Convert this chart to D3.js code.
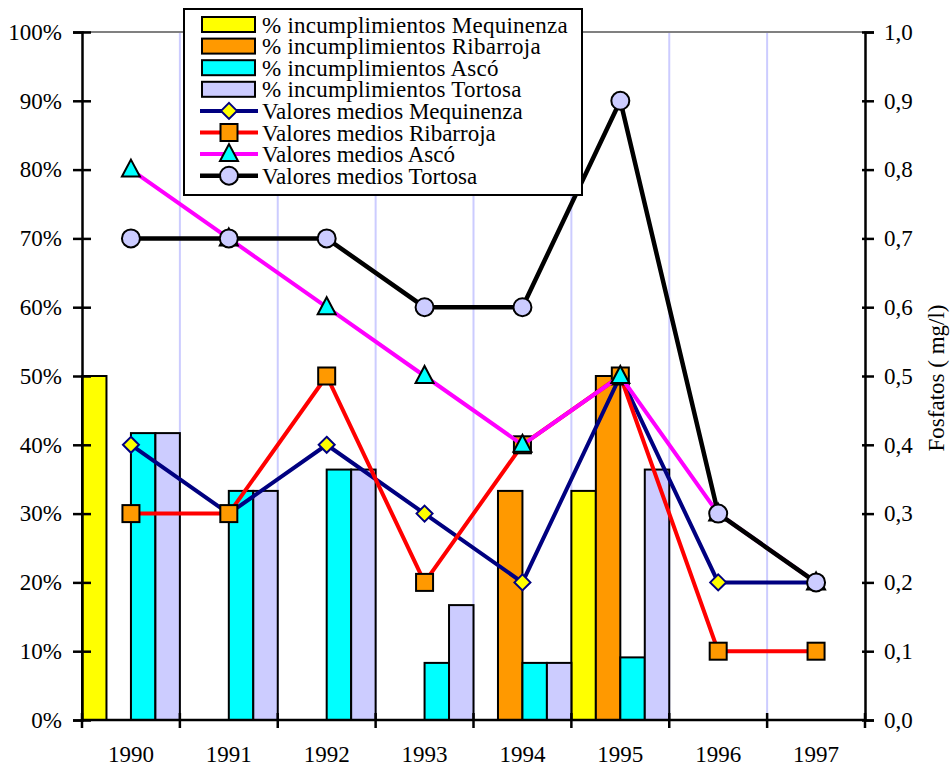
<!DOCTYPE html>
<html>
<head>
<meta charset="utf-8">
<script src="https://cdn.jsdelivr.net/npm/d3@7"></script>
<style>
  html, body { margin: 0; padding: 0; background: #fff; }
  svg { display: block; }
  svg text { font-family: "Liberation Serif", "Times New Roman", Times, serif; fill: #000; }
</style>
</head>
<body>
<svg id="chart" width="951" height="769"></svg>
<script>
// ---- data ----
const years = ["1990", "1991", "1992", "1993", "1994", "1995", "1996", "1997"];
const barSeriesNames = ["% incumplimientos Mequinenza", "% incumplimientos Ribarroja", "% incumplimientos Ascó", "% incumplimientos Tortosa"];
const pctMequinenza = [50, 0, 0, 0, 0, 33.3, 0, 0];
const pctRibarroja  = [0, 0, 0, 0, 33.3, 50, 0, 0];
const pctAsco       = [41.7, 33.3, 36.4, 8.3, 8.3, 9.1, 0, 0];
const pctTortosa    = [41.7, 33.3, 36.4, 16.7, 8.3, 36.4, 0, 0];
const lineSeriesNames = ["Valores medios Mequinenza", "Valores medios Ribarroja", "Valores medios Ascó", "Valores medios Tortosa"];
const medMequinenza = [0.4, 0.3, 0.4, 0.3, 0.2, 0.5, 0.2, 0.2];
const medRibarroja  = [0.3, 0.3, 0.5, 0.2, 0.4, 0.5, 0.1, 0.1];
const medAsco       = [0.8, 0.7, 0.6, 0.5, 0.4, 0.5, 0.3, 0.2];
const medTortosa    = [0.7, 0.7, 0.7, 0.6, 0.6, 0.9, 0.3, 0.2];
const leftTicks  = [0, 10, 20, 30, 40, 50, 60, 70, 80, 90, 100];
const rightTicks = [0, 0.1, 0.2, 0.3, 0.4, 0.5, 0.6, 0.7, 0.8, 0.9, 1.0];
const rightAxisTitle = "Fosfatos ( mg/l)";

// ---- styles ----
const FONT = "Liberation Serif";
const barColors  = ["#ffff00", "#ff9900", "#00ffff", "#ccccff"];
const lineColors = ["#000080", "#ff0000", "#ff00ff", "#000000"];
const markerFill = ["#ffff00", "#ff9900", "#00ffff", "#ccccff"];
const markerStroke = ["#000080", "#000000", "#000000", "#000000"];
const markerTypes = ["diamond", "square", "triangle", "circle"];
const lineWidths = [4, 4, 4, 4.5];

const barData = [pctMequinenza, pctRibarroja, pctAsco, pctTortosa];
const lineData = [medMequinenza, medRibarroja, medAsco, medTortosa];

const svg = d3.select("#chart");
const L = 82, R = 865, T = 32, B = 720;

const x = d3.scaleBand().domain(years).range([L, R]).padding(0);
const xs = d3.scaleBand().domain(d3.range(4)).range([0, x.bandwidth()]).padding(0);
const yL = d3.scaleLinear().domain([0, 100]).range([B, T]);
const yR = d3.scaleLinear().domain([0, 1]).range([B, T]);

// gridlines at category boundaries
const bounds = years.slice(1).map(y => x(y));
svg.append("g").selectAll("line").data(bounds).join("line")
  .attr("x1", d => d).attr("x2", d => d)
  .attr("y1", T).attr("y2", B)
  .attr("stroke", "#ccccff").attr("stroke-width", 2);

// top border
svg.append("line").attr("x1", L).attr("x2", R).attr("y1", T).attr("y2", T)
  .attr("stroke", "#808080").attr("stroke-width", 2);

// bars
barData.forEach((arr, si) => {
  svg.append("g").selectAll("rect")
    .data(arr.map((v, i) => ({ v, yr: years[i] })).filter(d => d.v > 0))
    .join("rect")
    .attr("x", d => x(d.yr) + xs(si))
    .attr("width", xs.bandwidth())
    .attr("y", d => yL(d.v))
    .attr("height", d => B - yL(d.v))
    .attr("fill", barColors[si])
    .attr("stroke", "#000").attr("stroke-width", 2);
});

// axes
const fmtR = d3.format(".1f");
const gL = svg.append("g").attr("transform", `translate(${L},0)`)
  .call(d3.axisLeft(yL).tickValues(leftTicks).tickFormat(d => d + "%").tickSize(9).tickPadding(11));
const gR = svg.append("g").attr("transform", `translate(${R},0)`)
  .call(d3.axisRight(yR).tickValues(rightTicks).tickFormat(d => fmtR(d).replace(".", ",")).tickSize(9).tickPadding(10));
const gB = svg.append("g").attr("transform", `translate(0,${B})`)
  .call(d3.axisBottom(x).tickSize(0).tickPadding(26));

[gL, gR, gB].forEach(g => {
  g.attr("font-family", FONT).attr("font-size", 23);
  g.select(".domain").attr("stroke", "#000").attr("stroke-width", 2.5);
  g.selectAll("text").style("font-family", '"Liberation Serif"').attr("font-size", 23);
  g.selectAll(".tick line").attr("stroke", "#000").attr("stroke-width", 2.5);
});
gL.selectAll(".tick line").attr("x1", 9);
gR.selectAll(".tick line").attr("x1", -3);
gB.select(".domain").attr("d", `M${L},0H${R}`);
// bottom ticks at category boundaries
gB.selectAll(".bt").data([L, ...bounds, R]).join("line").attr("class", "bt")
  .attr("x1", d => d).attr("x2", d => d).attr("y1", -7).attr("y2", 8)
  .attr("stroke", "#000").attr("stroke-width", 2.5);

// right axis title
svg.append("text")
  .attr("transform", `translate(944,378) rotate(-90)`)
  .attr("text-anchor", "middle")
  .style("font-family", '"Liberation Serif"')
  .attr("font-size", 23)
  .text(rightAxisTitle);

// marker drawing
function marker(sel, type, fill, stroke) {
  if (type === "circle") {
    sel.append("circle").attr("r", 9).attr("fill", fill).attr("stroke", stroke).attr("stroke-width", 2);
  } else if (type === "square") {
    sel.append("rect").attr("x", -8.5).attr("y", -8.5).attr("width", 17).attr("height", 17)
      .attr("fill", fill).attr("stroke", stroke).attr("stroke-width", 2);
  } else if (type === "diamond") {
    sel.append("path").attr("d", "M0,-8L8,0L0,8L-8,0Z").attr("fill", fill).attr("stroke", stroke).attr("stroke-width", 2);
  } else if (type === "triangle") {
    sel.append("path").attr("d", "M0,-10L9,7L-9,7Z").attr("fill", fill).attr("stroke", stroke).attr("stroke-width", 2);
  }
}

const cx = yr => x(yr) + x.bandwidth() / 2;
const lineGen = d3.line().x(d => cx(d.yr)).y(d => yR(d.v));

lineData.forEach((arr, si) => {
  const pts = arr.map((v, i) => ({ v, yr: years[i] }));
  const g = svg.append("g");
  g.append("path").datum(pts).attr("d", lineGen)
    .attr("fill", "none").attr("stroke", lineColors[si]).attr("stroke-width", lineWidths[si])
    .attr("stroke-linejoin", "miter");
  g.selectAll("g.m").data(pts).join("g").attr("class", "m")
    .attr("transform", d => `translate(${cx(d.yr)},${yR(d.v)})`)
    .each(function() { marker(d3.select(this), markerTypes[si], markerFill[si], markerStroke[si]); });
});

// legend
const lg = svg.append("g");
lg.append("rect").attr("x", 184).attr("y", 9).attr("width", 398).attr("height", 186)
  .attr("fill", "#fff").attr("stroke", "#000").attr("stroke-width", 2);
const rowY = i => 24.5 + i * 21.6;
barSeriesNames.forEach((name, i) => {
  lg.append("rect").attr("x", 202).attr("y", rowY(i) - 7.5).attr("width", 53).attr("height", 15)
    .attr("fill", barColors[i]).attr("stroke", "#000").attr("stroke-width", 2);
  lg.append("text").attr("x", 262).attr("y", rowY(i) + 8).attr("font-size", 23)
    .attr("letter-spacing", 0.25)
    .style("font-family", '"Liberation Serif"').text(name);
});
lineSeriesNames.forEach((name, j) => {
  const i = j + 4;
  lg.append("line").attr("x1", 200).attr("x2", 258).attr("y1", rowY(i)).attr("y2", rowY(i))
    .attr("stroke", lineColors[j]).attr("stroke-width", lineWidths[j]);
  const m = lg.append("g").attr("transform", `translate(229,${rowY(i)})`);
  marker(m, markerTypes[j], markerFill[j], markerStroke[j]);
  lg.append("text").attr("x", 262).attr("y", rowY(i) + 8).attr("font-size", 23)
    .style("font-family", '"Liberation Serif"').text(name);
});
</script>
</body>
</html>
